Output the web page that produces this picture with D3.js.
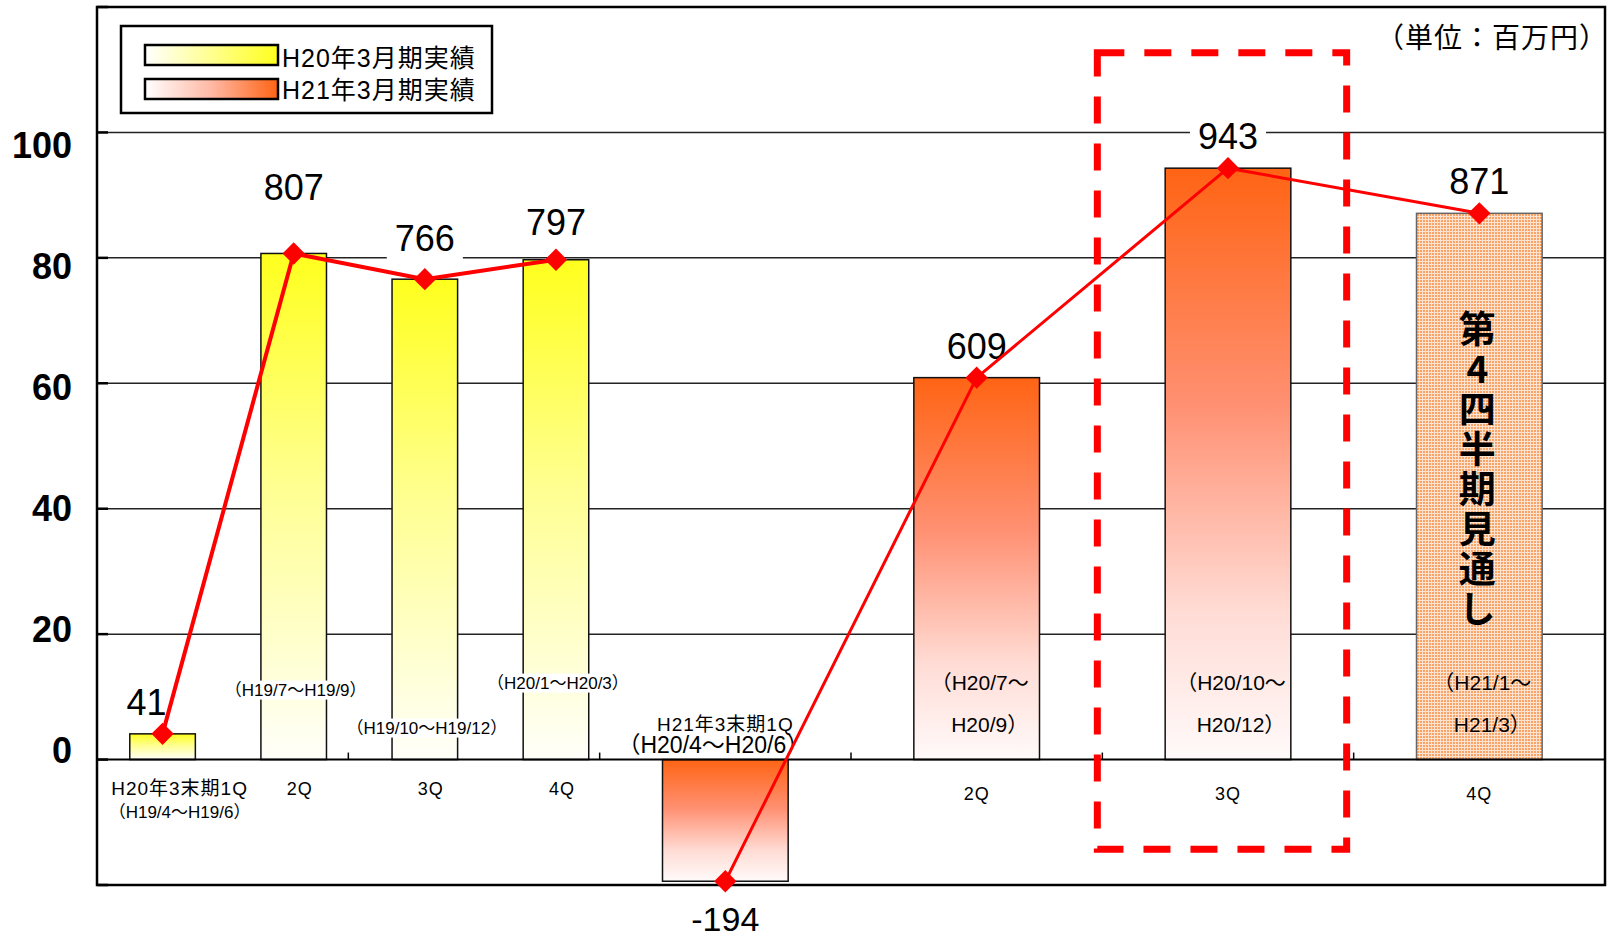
<!DOCTYPE html>
<meta charset="utf-8">
<style>
    body { margin: 0; background: #fff; }
    svg text { font-family: "Liberation Sans", "Noto Sans CJK JP", sans-serif; fill: #000; }
</style>
<svg width="1608" height="940"></svg>
<script src="https://d3js.org/d3.v7.min.js"></script>
<script>

    // data (百万円)
    var cats1 = ["H20年3末期1Q", "2Q", "3Q", "4Q"];
    var vals1 = [41, 807, 766, 797];
    var periods1 = ["（H19/4～H19/6）", "（H19/7～H19/9）", "（H19/10～H19/12）", "（H20/1～H20/3）"];

    var cats2 = ["H21年3末期1Q", "2Q", "3Q", "4Q"];
    var vals2 = [-194, 609, 943, 871];
    var periods2 = [["（H20/4～H20/6）"], ["（H20/7～", "H20/9）"], ["（H20/10～", "H20/12）"], ["（H21/1～", "H21/3）"]];

    var yTicks = [0, 20, 40, 60, 80, 100];
    var legendNames = ["H20年3月期実績", "H21年3月期実績"];
    var unitText = "（単位：百万円）";
    var forecastText = "第4四半期見通し";

    var svg = d3.select("svg"),
        margin = {top: 7, right: 3, bottom: 55, left: 97},
        width = +svg.attr("width") - margin.left - margin.right,
        height = +svg.attr("height") - margin.top - margin.bottom;

    var defs = svg.append("defs");

    function grad(id, horiz, stops) {
        var gr = defs.append("linearGradient").attr("id", id)
            .attr("x1", 0).attr("y1", 0).attr("x2", horiz ? 1 : 0).attr("y2", horiz ? 0 : 1);
        stops.forEach(function(s) { gr.append("stop").attr("offset", s[0]).attr("stop-color", s[1]); });
    }
    grad("yel", false, [[0, "#ffff1e"], [0.45, "#ffff90"], [1, "#fffffa"]]);
    grad("ora", false, [[0, "#ff6414"], [0.4, "#ff9072"], [0.75, "#ffdcd5"], [1, "#fffafa"]]);
    grad("yelL", true, [[0, "#ffffff"], [1, "#ffff1e"]]);
    grad("oraL", true, [[0, "#ffffff"], [0.5, "#ffb8a4"], [1, "#ff6414"]]);

    var pat = defs.append("pattern").attr("id", "dots")
        .attr("width", 3).attr("height", 3).attr("patternUnits", "userSpaceOnUse");
    pat.append("rect").attr("width", 3).attr("height", 3).attr("fill", "#fde3cf");
    pat.append("rect").attr("width", 2).attr("height", 2).attr("fill", "#f8a469");

    var g = svg.append("g").attr("transform", "translate(" + margin.left + "," + margin.top + ")");

    var y = d3.scaleLinear().domain([-20, 120]).range([height, 0]);
    var yLab = d3.scaleLinear().domain([0, 100]).range([y(0) + 3, y(100) + 26]);

    // second group sits on a 6 slot axis, first group on a narrower one
    var x2 = d3.scaleBand().domain(["a", "b"].concat(cats2.map(function(c, i) { return "k" + i; })))
        .range([0, width]).paddingInner(0.5).paddingOuter(0.25);
    var x1 = d3.scaleBand().domain(cats1.map(function(c, i) { return "k" + i; }))
        .range([0, width * 4 / 11.5]).paddingInner(0.5).paddingOuter(0.25);

    function cx1(i) { return x1("k" + i) + x1.bandwidth() / 2; }
    function cx2(i) { return x2("k" + i) + x2.bandwidth() / 2; }

    // grid
    g.append("g").selectAll("line").data([20, 40, 60, 80, 100]).enter().append("line")
        .attr("x1", 0).attr("x2", width)
        .attr("y1", function(d) { return y(d); }).attr("y2", function(d) { return y(d); })
        .attr("stroke", "#222").attr("stroke-width", 1.5);

    // frame
    g.append("rect").attr("width", width).attr("height", height)
        .attr("fill", "none").attr("stroke", "#000").attr("stroke-width", 2.5);

    // y ticks
    g.append("g").selectAll("line").data(d3.range(-20, 121, 20)).enter().append("line")
        .attr("x1", 0).attr("x2", 11)
        .attr("y1", function(d) { return y(d); }).attr("y2", function(d) { return y(d); })
        .attr("stroke", "#000").attr("stroke-width", 2.5);

    g.append("g").selectAll("text").data(yTicks).enter().append("text")
        .attr("x", -25).attr("y", function(d) { return yLab(d); })
        .attr("text-anchor", "end").style("font-size", "36px").style("font-weight", "bold")
        .text(function(d) { return d; });

    // bars
    g.append("g").selectAll("rect").data(vals1).enter().append("rect")
        .attr("x", function(d, i) { return x1("k" + i); })
        .attr("width", x1.bandwidth())
        .attr("y", function(d) { return y(d / 10); })
        .attr("height", function(d) { return y(0) - y(d / 10); })
        .attr("fill", "url(#yel)").attr("stroke", "#111").attr("stroke-width", 1.5);

    g.append("g").selectAll("rect").data(vals2).enter().append("rect")
        .attr("x", function(d, i) { return x2("k" + i); })
        .attr("width", x2.bandwidth())
        .attr("y", function(d) { return y(Math.max(0, d / 10)); })
        .attr("height", function(d) { return Math.abs(y(0) - y(d / 10)); })
        .attr("fill", function(d, i) { return i === 3 ? "url(#dots)" : "url(#ora)"; })
        .attr("stroke", function(d, i) { return i === 3 ? "#666" : "#111"; })
        .attr("stroke-width", 1.5);

    // zero line + x ticks
    g.append("line").attr("x1", 0).attr("x2", width).attr("y1", y(0)).attr("y2", y(0))
        .attr("stroke", "#000").attr("stroke-width", 2);
    g.append("g").selectAll("line").data(d3.range(1, 6)).enter().append("line")
        .attr("x1", function(d) { return d * x2.step(); }).attr("x2", function(d) { return d * x2.step(); })
        .attr("y1", y(0)).attr("y2", y(0) - 7)
        .attr("stroke", "#000").attr("stroke-width", 1.5);

    // category labels
    var cat = g.append("g").style("font-size", "18px").attr("text-anchor", "middle");
    cat.selectAll("text.c1").data(cats1).enter().append("text")
        .attr("x", function(d, i) { return cx1(i) + (i === 0 ? 17 : 6); })
        .attr("y", y(0) + 35)
        .style("font-size", function(d, i) { return i === 0 ? "19px" : "18px"; })
        .style("letter-spacing", "1px")
        .text(function(d) { return d; });
    cat.append("text").attr("x", cx1(0) + 17).attr("y", y(0) + 58)
        .style("font-size", "17px").text(periods1[0]);
    cat.selectAll("text.c2").data(cats2.slice(1)).enter().append("text")
        .attr("x", function(d, i) { return cx2(i + 1); })
        .attr("y", y(0) + 40)
        .style("letter-spacing", "1px")
        .text(function(d) { return d; });

    // first group period labels with white backing
    var p1 = g.append("g").style("font-size", "17px").attr("text-anchor", "middle");
    var p1dy = [0, -64, -26, -71];
    periods1.forEach(function(t, i) {
        if (i === 0) return;
        var tx = p1.append("text").attr("x", cx1(i) + 2).attr("y", y(0) + p1dy[i]).text(t);
        var b = tx.node().getBBox();
        p1.insert("rect", "text").attr("x", b.x - 2).attr("y", b.y).attr("width", b.width + 4)
            .attr("height", b.height).attr("fill", "#fff");
    });

    // second group period labels
    var p2 = g.append("g").attr("text-anchor", "middle").style("font-size", "21px");
    p2.append("text").attr("x", cx2(0)).attr("y", y(0) - 29).style("font-size", "19px")
        .style("letter-spacing", "1px").text(cats2[0]);
    p2.append("text").attr("x", cx2(0) - 12).attr("y", y(0) - 7).style("font-size", "23px")
        .text(periods2[0][0]);
    periods2.slice(1).forEach(function(lines, i) {
        lines.forEach(function(t, j) {
            p2.append("text").attr("x", cx2(i + 1) + 3 + j * 10).attr("y", y(0) - 70 + j * 42).text(t);
        });
    });

    // forecast, written top to bottom
    g.append("text")
        .attr("x", cx2(3) - 2)
        .attr("y", y(68.4) - 20)
        .style("writing-mode", "vertical-rl")
        .style("text-orientation", "upright")
        .style("font-family", "'Noto Sans CJK JP', sans-serif")
        .style("font-size", "37px").style("font-weight", "bold")
        .style("letter-spacing", "3px")
        .text(forecastText);

    // dashed highlight round 3Q
    g.append("rect")
        .attr("x", x2("k2") - x2.step() * 0.25 - 5)
        .attr("y", y(112.7))
        .attr("width", x2.step() - 2)
        .attr("height", y(-14.3) - y(112.7))
        .attr("fill", "none").attr("stroke", "#ff0000").attr("stroke-width", 7)
        .attr("stroke-dasharray", "27,20");

    // value labels
    var labs = vals1.map(function(v, i) { return {v: v, x: cx1(i), top: y(v / 10)}; })
        .concat(vals2.map(function(v, i) { return {v: v, x: cx2(i), top: y(v / 10)}; }));
    var lift = {807: -53, 766: -28, 797: -25, "-194": 50};
    var lab = g.append("g").attr("text-anchor", "middle").style("font-size", "36px");
    labs.forEach(function(d, i) {
        var t = lab.append("text")
            .attr("x", d.x + (i === 0 ? -16 : 0))
            .attr("y", d.top + (lift[d.v] !== undefined ? lift[d.v] : -19))
            .style("font-size", d.v < 0 ? "34px" : null)
            .text(d.v);
        var b = t.node().getBBox();
        lab.insert("rect", "text").attr("x", b.x - 8).attr("y", b.y).attr("width", b.width + 16)
            .attr("height", b.height).attr("fill", "#fff");
    });

    // one line per fiscal year
    var lines = [
        vals1.map(function(v, i) { return [cx1(i), y(v / 10)]; }),
        vals2.map(function(v, i) { return [cx2(i), y(v / 10)]; })
    ];
    g.append("g").selectAll("path").data(lines).enter().append("path")
        .attr("d", d3.line())
        .attr("fill", "none").attr("stroke", "#ff0000")
        .attr("stroke-width", function(d, i) { return i === 0 ? 4 : 3; });

    g.append("g").selectAll("path").data(lines[0].concat(lines[1])).enter().append("path")
        .attr("d", d3.symbol(d3.symbolSquare, 250))
        .attr("transform", function(d) { return "translate(" + d[0] + "," + d[1] + ") rotate(45)"; })
        .attr("fill", "#ff0000");

    // unit
    svg.append("text").attr("x", 1608).attr("y", 48).attr("text-anchor", "end")
        .style("font-size", "28px").style("letter-spacing", "1px").text(unitText);

    // legend
    var lg = svg.append("g");
    lg.append("rect").attr("x", 121).attr("y", 26).attr("width", 371).attr("height", 87)
        .attr("fill", "#fff").attr("stroke", "#000").attr("stroke-width", 2.5);
    legendNames.forEach(function(n, i) {
        lg.append("rect").attr("x", 145).attr("y", 45 + i * 34).attr("width", 133).attr("height", 20)
            .attr("fill", i === 0 ? "url(#yelL)" : "url(#oraL)")
            .attr("stroke", "#000").attr("stroke-width", 2.5);
        lg.append("text").attr("x", 282).attr("y", 67 + i * 32)
            .style("font-size", "25px").style("letter-spacing", "1px").text(n);
    });

</script>
